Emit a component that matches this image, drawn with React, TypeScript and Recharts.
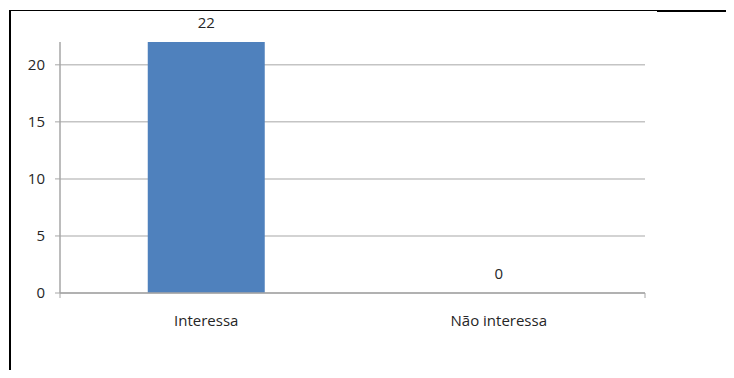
import React from "react";
import { ComposedChart, Bar, Line, XAxis, YAxis, CartesianGrid, LabelList } from "recharts";

const categories = ["Interessa", "Não interessa"];
const values = [22, 0];
const yTicks = [0, 5, 10, 15, 20];
const yMax = 22;
const boundaryTicks = [0, 1, 2];

const data = categories.map((name, i) => ({ name, value: values[i] }));

const FONT = "'Open Sans', sans-serif";
const TEXT = "#262626";

const gridRows = ({ offset }: any) =>
  yTicks.map((t) => offset.top + offset.height * (1 - t / yMax));

export default function App() {
  return (
    <div style={{ position: "relative", width: 734, height: 378, margin: -8, background: "#fff", overflow: "hidden" }}>
      <div style={{ position: "absolute", left: 9, top: 10, width: 648, height: 1, background: "#000" }} />
      <div style={{ position: "absolute", left: 657, top: 10, width: 77, height: 2, background: "#000" }} />
      <div style={{ position: "absolute", left: 9, top: 10, width: 2, height: 368, background: "#000" }} />
      <ComposedChart
        width={734}
        height={378}
        data={data}
        margin={{ top: 42, right: 89, bottom: 55, left: 10 }}
        barCategoryGap="30%"
      >
        <CartesianGrid
          vertical={false}
          stroke="#c4c4c4"
          strokeWidth={1.5}
          xAxisId="cat"
          horizontalCoordinatesGenerator={gridRows}
        />
        <XAxis
          type="number"
          domain={[0, 2]}
          ticks={boundaryTicks}
          interval={0}
          height={5}
          tick={() => <g />}
          axisLine={{ stroke: "#a6a6a6", strokeWidth: 1.5 }}
          tickLine={{ stroke: "#a6a6a6" }}
          tickSize={5}
        />
        <XAxis
          xAxisId="cat"
          dataKey="name"
          height={25}
          axisLine={false}
          tickLine={false}
          tickSize={0}
          tickMargin={17}
          tick={{ fill: TEXT, fontSize: 15, fontFamily: FONT }}
        />
        <YAxis
          width={50}
          domain={[0, yMax]}
          ticks={yTicks}
          axisLine={{ stroke: "#a6a6a6", strokeWidth: 1.5 }}
          tickLine={{ stroke: "#a6a6a6" }}
          tickSize={5}
          tickMargin={10}
          tick={{ fill: TEXT, fontSize: 15, fontFamily: FONT }}
        />
        <Bar dataKey="value" xAxisId="cat" fill="#4f81bd" isAnimationActive={false} />
        <Line
          dataKey="value"
          xAxisId="cat"
          stroke="none"
          dot={false}
          activeDot={false}
          legendType="none"
          isAnimationActive={false}
        >
          <LabelList
            dataKey="value"
            position="top"
            offset={14}
            style={{ fill: TEXT, fontSize: 15, fontFamily: FONT }}
          />
        </Line>
      </ComposedChart>
    </div>
  );
}
